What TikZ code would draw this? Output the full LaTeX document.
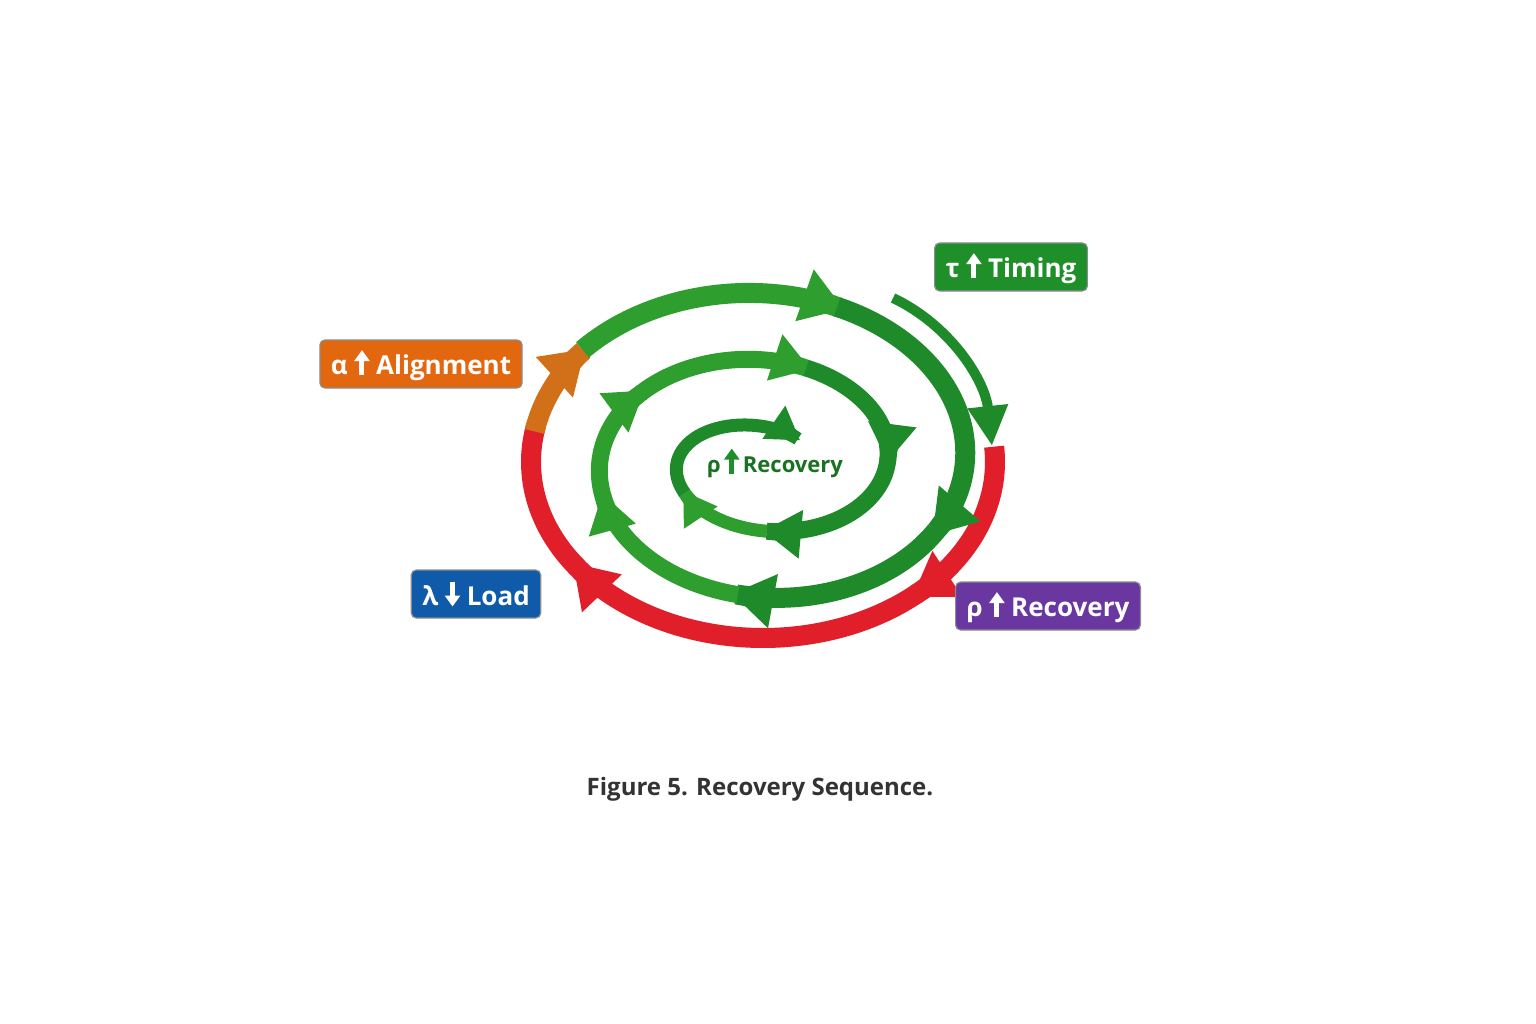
\documentclass[tikz,border=0pt]{standalone}
\usepackage{fontspec}
\setmainfont{Open Sans}
\usetikzlibrary{arrows.meta}
\definecolor{gA}{HTML}{2E9E2E}
\definecolor{gB}{HTML}{1E8A2A}
\definecolor{rA}{HTML}{E01F2B}
\definecolor{oA}{HTML}{D2701A}
\definecolor{tG}{HTML}{1F8F2A}
\definecolor{tO}{HTML}{E2670F}
\definecolor{tB}{HTML}{0F5BAA}
\definecolor{tP}{HTML}{6A37A0}
\newcommand{\uparw}[1]{\tikz[x=1pt,y=1pt,baseline=0pt]{\draw[#1,line width=5pt,-{Triangle[width=15pt,length=11pt]}] (0,-1)--(0,24);}}
\newcommand{\dnarw}[1]{\tikz[x=1pt,y=1pt,baseline=0pt]{\draw[#1,line width=5pt,-{Triangle[width=15pt,length=11pt]}] (0,24)--(0,-1);}}
\newcommand{\sseg}[3]{\draw[#3] plot[domain=#1:#2,samples=40,smooth] ({763+(232-0.215*(\x-220))*cos(\x)},{462+(178-0.185*(\x-220))*sin(\x)});}
\newcommand{\oseg}[3]{\draw[#3] plot[domain=#1:#2,samples=40,smooth] ({763+232*cos(\x)},{462+176*sin(\x)});}
\begin{document}
\begin{tikzpicture}[x=1pt,y=-1pt,
  box/.style={rounded corners=5pt,draw=black!45,line width=1.2pt,text=white,font=\fontsize{26}{30}\selectfont\bfseries,inner xsep=11pt,minimum height=48pt},
  big/.style={line width=20pt,-{Triangle[width=52pt,length=42pt]}},
  mid/.style={line width=17pt,-{Triangle[width=46pt,length=38pt]}},
  sml/.style={line width=13pt,-{Triangle[width=38pt,length=32pt]}}]
\useasboundingbox[fill=white] (0,0) rectangle (1536,1024);
\oseg{-5}{50}{big,rA}
\oseg{48}{145}{big,rA}
\oseg{143}{192}{line width=20pt,rA}
\oseg{190}{220}{big,oA}
\sseg{219}{292}{big,gA}
\sseg{290}{390}{big,gB}
\sseg{388}{460}{big,gB}
\sseg{458}{525}{mid,gA}
\sseg{523}{580}{mid,gA}
\sseg{578}{650}{mid,gA}
\sseg{648}{720}{mid,gB}
\sseg{718}{810}{mid,gB}
\sseg{808}{870}{sml,gA}
\sseg{868}{1030}{sml,gB}
\coordinate (s1) at (893,298);
\coordinate (s2) at (992,446);
\draw[gB,line width=10pt,-{Triangle[width=38pt,length=40pt]}] (s1) .. controls (950,325) and (985,380) .. (s2);
\node[box,fill=tG] (tau) at (1011,267) {τ \uparw{white} Timing};
\node[box,fill=tO] (alp) at (421,364) {α \uparw{white} Alignment};
\node[box,fill=tB] (lam) at (476,594) {λ \dnarw{white} Load};
\node[box,fill=tP] (rho) at (1048,606) {ρ \uparw{white} Recovery};
\node[text=tG!80!black,font=\fontsize{22}{26}\selectfont\bfseries] (ctr) at (775,462) {ρ\,\uparw{tG}\,Recovery};
\node[text=black!80,font=\fontsize{24}{28}\selectfont\bfseries] (cap) at (760,789) {Figure 5. Recovery Sequence.};
\end{tikzpicture}
\end{document}
